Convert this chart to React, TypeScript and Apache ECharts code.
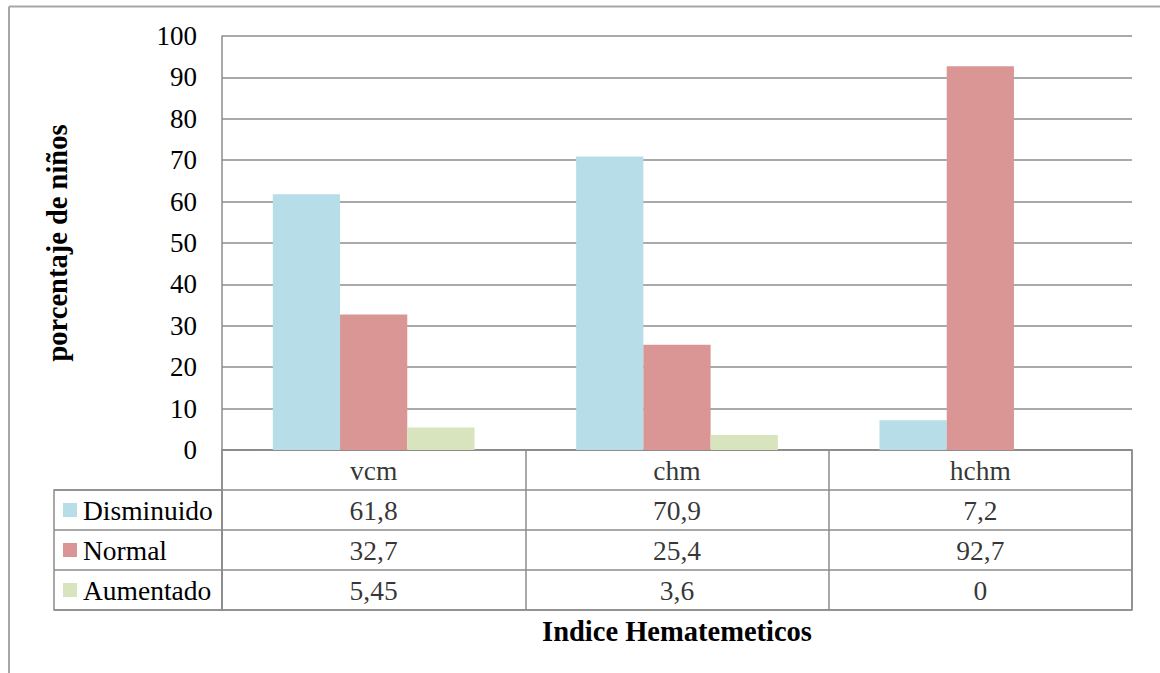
import React, { useEffect, useRef } from "react";
import * as echarts from "echarts";

// Categories (hematimetric indices) and the three groups of children
const categories = ["vcm", "chm", "hchm"];
const seriesNames = ["Disminuido", "Normal", "Aumentado"];
const disminuido = [61.8, 70.9, 7.2];
const normal = [32.7, 25.4, 92.7];
const aumentado = [5.45, 3.6, 0];
const yTicks = { min: 0, max: 100, interval: 10 };

const seriesColors = ["#B7DDE8", "#D99694", "#D7E4BD"];
const FONT = "Liberation Serif";
const GRID_GRAY = "#8c8c8c";

const fmt = (v: number) => String(v).replace(".", ",");

export default function App() {
  const ref = useRef<HTMLDivElement>(null);

  useEffect(() => {
    if (!ref.current) return;
    const chart = echarts.init(ref.current, undefined, { renderer: "svg" });
    const values = [disminuido, normal, aumentado];

    // Cells of the data table: header row (category names) then one row per series
    const cells: [number, number, string][] = [];
    categories.forEach((c, ci) => cells.push([ci, 0, c]));
    values.forEach((arr, si) =>
      arr.forEach((v, ci) => cells.push([ci, si + 1, fmt(v)]))
    );

    const rich: Record<string, any> = {
      t: { fontFamily: FONT, fontSize: 27.5, color: "#000", padding: [0, 0, 0, 6] },
    };
    seriesColors.forEach((c, i) => {
      rich["s" + i] = { width: 14, height: 14, backgroundColor: c };
    });

    chart.setOption({
      animation: false,
      backgroundColor: "#fff",
      textStyle: { fontFamily: FONT },
      grid: [
        { left: 222, right: 28, top: 36, bottom: 223 },
        {
          left: 222, right: 28, top: 450, height: 160,
          show: true, borderColor: GRID_GRAY, borderWidth: 1.5,
        },
        {
          left: 54, top: 490, width: 168, height: 120,
          show: true, borderColor: GRID_GRAY, borderWidth: 1.5,
        },
      ],
      xAxis: [
        {
          type: "category", gridIndex: 0, data: categories,
          axisLine: { lineStyle: { color: GRID_GRAY, width: 1.5 } },
          axisTick: { show: false }, axisLabel: { show: false },
        },
        {
          type: "category", gridIndex: 1, data: categories,
          axisLine: { show: false }, axisTick: { show: false }, axisLabel: { show: false },
          splitLine: { show: true, lineStyle: { color: GRID_GRAY, width: 1.5 } },
          name: "Indice Hematemeticos", nameLocation: "middle", nameGap: 7,
          nameTextStyle: { fontFamily: FONT, fontSize: 28.5, fontWeight: "bold", color: "#000" },
        },
        { type: "value", gridIndex: 2, show: false },
      ],
      yAxis: [
        {
          type: "value", gridIndex: 0, ...yTicks,
          axisLine: { show: true, lineStyle: { color: GRID_GRAY, width: 1.5 } },
          axisTick: { show: false },
          axisLabel: { fontFamily: FONT, fontSize: 27, color: "#000", margin: 25 },
          splitLine: { show: true, lineStyle: { color: GRID_GRAY, width: 1.6 } },
          name: "porcentaje de niños", nameLocation: "middle", nameRotate: 90, nameGap: 150,
          nameTextStyle: { fontFamily: FONT, fontSize: 28.5, fontWeight: "bold", color: "#000" },
        },
        {
          type: "category", gridIndex: 1, inverse: true, data: ["", ...seriesNames],
          axisLine: { show: false }, axisTick: { show: false }, axisLabel: { show: false },
          splitLine: { show: true, lineStyle: { color: GRID_GRAY, width: 1.5 } },
        },
        {
          type: "category", gridIndex: 2, inverse: true, data: seriesNames,
          axisLine: { show: false }, axisTick: { show: false },
          splitLine: { show: true, lineStyle: { color: GRID_GRAY, width: 1.5 } },
          axisLabel: {
            inside: true, margin: 9,
            formatter: (v: string) => `{s${seriesNames.indexOf(v)}|}{t|${v}}`,
            rich,
          },
        },
      ],
      series: [
        ...values.map((arr, i) => ({
          type: "bar",
          name: seriesNames[i],
          xAxisIndex: 0, yAxisIndex: 0,
          data: arr,
          barGap: "0%",
          barCategoryGap: "33.5%",
          itemStyle: { color: seriesColors[i] },
          silent: true,
        })),
        {
          type: "scatter",
          xAxisIndex: 1, yAxisIndex: 1,
          data: cells,
          symbolSize: 1,
          itemStyle: { color: "rgba(0,0,0,0)" },
          silent: true,
          label: {
            show: true, position: "inside",
            formatter: (p: any) => p.value[2],
            fontFamily: FONT, fontSize: 27.5, color: "#000",
          },
        },
      ],
      graphic: [
        {
          type: "line", shape: { x1: 9, y1: 6.5, x2: 1160, y2: 6.5 },
          style: { stroke: "#a6a6a6", lineWidth: 2 }, silent: true,
        },
        {
          type: "line", shape: { x1: 9, y1: 6.5, x2: 9, y2: 673 },
          style: { stroke: "#a6a6a6", lineWidth: 2 }, silent: true,
        },
      ],
    });

    return () => chart.dispose();
  }, []);

  return (
    <div
      ref={ref}
      style={{ position: "absolute", left: 0, top: 0, width: 1160, height: 673 }}
    />
  );
}
